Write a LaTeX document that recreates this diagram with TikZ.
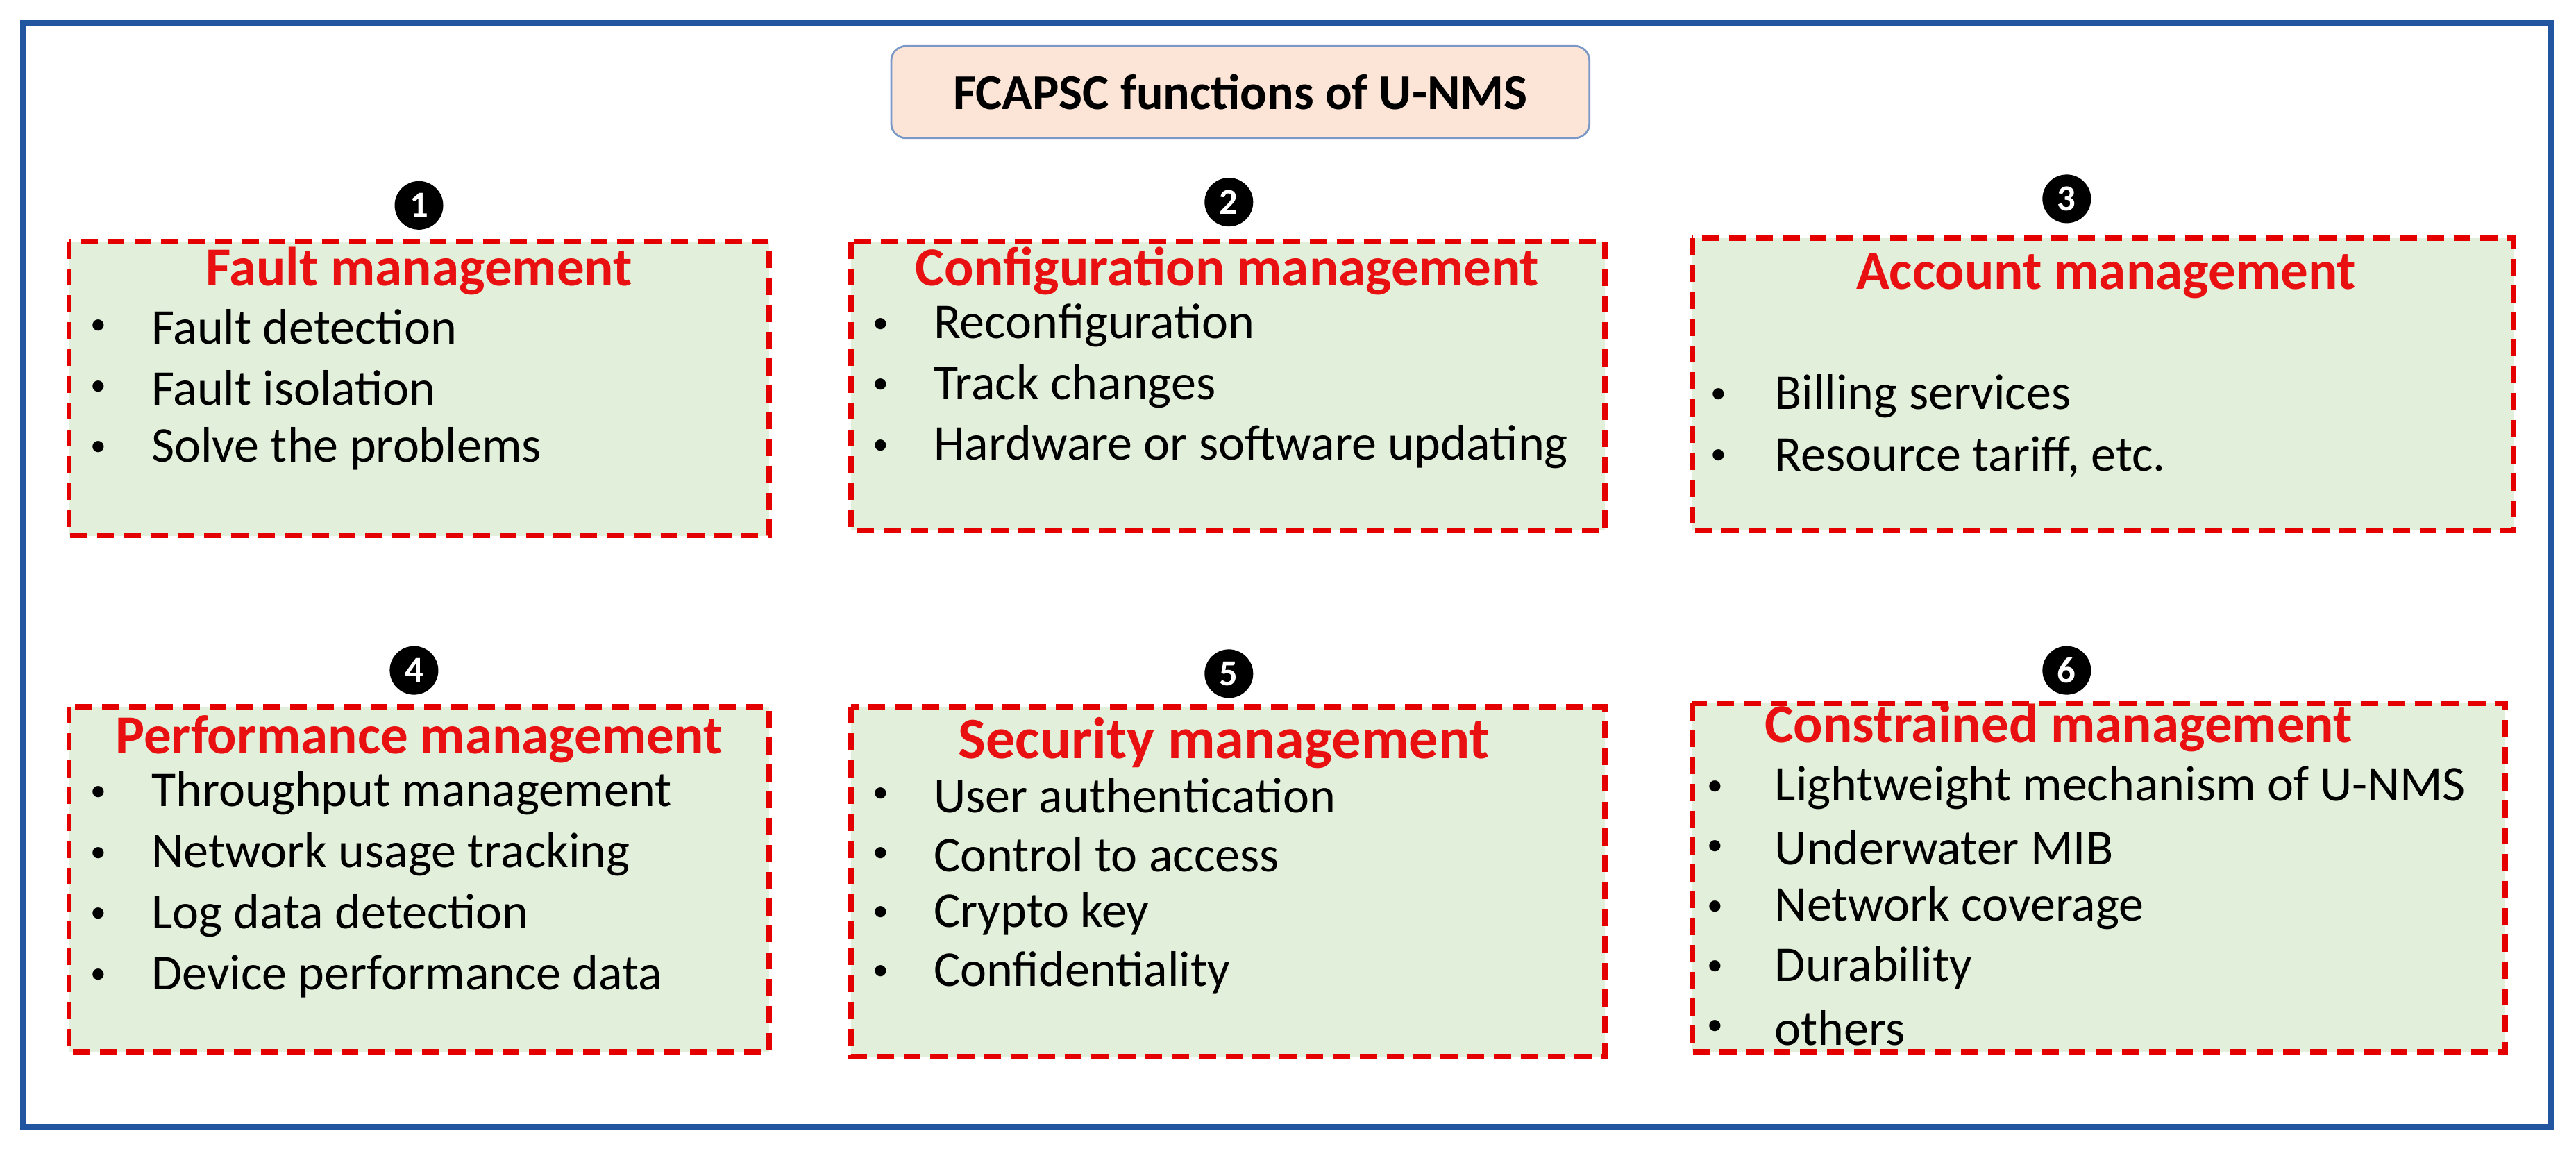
\documentclass[tikz,border=0pt]{standalone}
\usepackage{fontspec}
\setmainfont{Carlito}
\usetikzlibrary{calc, positioning}
\definecolor{frameblue}{HTML}{2155A0}
\definecolor{boxgreen}{HTML}{E2EFDA}
\definecolor{titlepeach}{HTML}{FCE4D6}
\definecolor{headred}{HTML}{E81010}

\begin{document}
\begin{tikzpicture}[x=0.02367cm, y=-0.02367cm]
\tikzstyle{func box}=[draw=red!90!black, dashed, dash pattern=on 7pt off 4pt, line width=2.2pt, fill=boxgreen]
\tikzstyle{head}=[font=\fontsize{22.5}{26}\selectfont\bfseries, text=headred, inner sep=0]
\tikzstyle{item}=[font=\fontsize{20.5}{24}\selectfont, anchor=west, inner sep=0]
\tikzstyle{dot}=[font=\fontsize{13}{16}\selectfont, inner sep=0]
\tikzstyle{badge}=[circle, fill=black, text=white, inner sep=0, minimum size=0.7cm, font=\fontsize{15}{17}\selectfont\bfseries]

\useasboundingbox (0,0) rectangle (1568,699);
\draw[frameblue, line width=2.5pt] (14,14) rectangle (1553,686);

\node[draw=frameblue!60, rounded corners=6pt, fill=titlepeach, line width=0.8pt,
  minimum width=425*0.02367cm, minimum height=56*0.02367cm,
  font=\fontsize{20.5}{24}\selectfont\bfseries] (title) at (755,56) {FCAPSC functions of U-NMS};

% boxes
\draw[func box] (42,147) rectangle (468,326);
\draw[func box] (518,147) rectangle (977,323);
\draw[func box] (1030,145) rectangle (1530,323);
\draw[func box] (42,430) rectangle (468,640);
\draw[func box] (518,430) rectangle (977,643);
\draw[func box] (1030,428) rectangle (1525,640);

% badges
\node[badge] (b1) at (255,125) {1};
\node[badge] (b2) at (748,123) {2};
\node[badge] (b3) at (1258,121) {3};
\node[badge] (b4) at (252,408) {4};
\node[badge] (b5) at (748,410) {5};
\node[badge] (b6) at (1258,408) {6};

% headings
\node[head] (fault) at (255,165) {Fault management};
\node[head] (config) at (747,165) {Configuration management};
\node[head] (account) at (1282,168) {Account management};
\node[head] (perf) at (255,450) {Performance management};
\node[head, font=\fontsize{24}{28}\selectfont\bfseries] (secur) at (745,452) {Security management};
\node[head] (constr) at (1253,443) {Constrained management};

% bullet lists
\foreach \t [count=\i] in {Fault detection, Fault isolation, Solve the problems}
  {\node[dot] at (60,162+37*\i) {\textbullet}; \node[item] (fi\i) at (92,162+37*\i) {\t};}
\foreach \t [count=\i] in {Reconfiguration, Track changes, Hardware or software updating}
  {\node[dot] at (536,161+37*\i) {\textbullet}; \node[item] (ci\i) at (568,161+37*\i) {\t};}
\foreach \t [count=\i] in {Billing services, {Resource tariff, etc.}}
  {\node[dot] at (1046,204+37*\i) {\textbullet}; \node[item] (ai\i) at (1080,204+37*\i) {\t};}
\foreach \t [count=\i] in {Throughput management, Network usage tracking, Log data detection, Device performance data}
  {\node[dot] at (60,446+37*\i) {\textbullet}; \node[item] (pi\i) at (92,446+37*\i) {\t};}
\foreach \t [count=\i] in {User authentication, Control to access, Crypto key, Confidentiality}
  {\node[dot] at (536,448+36*\i) {\textbullet}; \node[item] (si\i) at (568,448+36*\i) {\t};}
\foreach \t [count=\i] in {Lightweight mechanism of U-NMS, Underwater MIB, Network coverage, Durability, others}
  {\node[dot] at (1044,443+36.5*\i) {\textbullet}; \node[item] (ki\i) at (1080,443+36.5*\i) {\t};}
\end{tikzpicture}
\end{document}
